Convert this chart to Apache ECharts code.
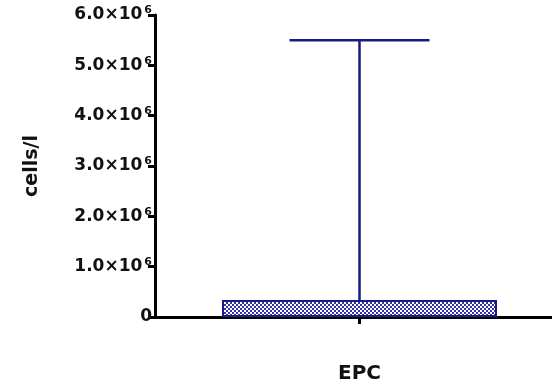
<!DOCTYPE html>
<html><head><meta charset="utf-8">
<script src="https://cdn.jsdelivr.net/npm/echarts@6/dist/echarts.min.js"></script>
<style>html,body{margin:0;padding:0;background:#fff}#c{width:552px;height:389px}</style>
</head><body><div id="c"></div>
<script>
const categories = ['EPC'];
const meanValues = [340000];
const upperValues = [5500000];
const yTicks = [0, 1000000, 2000000, 3000000, 4000000, 5000000, 6000000];
const yTickLabels = ['0', '1.0×10|6', '2.0×10|6', '3.0×10|6', '4.0×10|6', '5.0×10|6', '6.0×10|6'];

function makePattern() {
  const c = document.createElement('canvas');
  c.width = 4; c.height = 4;
  const g = c.getContext('2d');
  g.fillStyle = '#ffffff'; g.fillRect(0, 0, 4, 4);
  g.fillStyle = '#3232a0';
  g.fillRect(0, 0, 2, 2); g.fillRect(2, 2, 2, 2);
  return c;
}

const FONT = 'DejaVu Sans';
const chart = echarts.init(document.getElementById('c'), null, {renderer: 'canvas'});
const lineColor = '#1a1a86';
chart.setOption({
  animation: false,
  grid: {left: 155, top: 15, height: 302, width: 409, outerBoundsMode: 'none', containLabel: false},
  xAxis: {
    type: 'category', data: categories,
    axisLine: {lineStyle: {color: '#000', width: 3}},
    axisTick: {show: true, alignWithLabel: true, length: 7, lineStyle: {color: '#000', width: 3}},
    axisLabel: {margin: 47, color: '#111', fontFamily: FONT, fontWeight: 'bold', fontSize: 20}
  },
  yAxis: {
    type: 'value', min: 0, max: 6000000, interval: 1000000,
    name: 'cells/l', nameLocation: 'middle', nameGap: 113, nameRotate: 90,
    nameTextStyle: {color: '#111', fontFamily: FONT, fontWeight: 'bold', fontSize: 19},
    splitLine: {show: false},
    axisLine: {show: true, lineStyle: {color: '#000', width: 3}},
    axisTick: {show: true, length: 7, lineStyle: {color: '#000', width: 3}},
    axisLabel: {
      margin: 3, color: '#111',
      formatter: function (v) {
        const i = yTicks.indexOf(v);
        const s = i >= 0 ? yTickLabels[i] : String(v);
        if (s.indexOf('|') < 0) return '{a|' + s + '}';
        const p = s.split('|');
        return '{a|' + p[0] + '}{s|' + p[1] + '}';
      },
      rich: {
        a: {fontFamily: FONT, fontWeight: 'bold', fontSize: 17, lineHeight: 20, color: '#111'},
        s: {fontFamily: FONT, fontWeight: 'bold', fontSize: 11, lineHeight: 11, color: '#111', verticalAlign: 'top', padding: [0, 0, 0, 2]}
      }
    }
  },
  series: [
    {
      type: 'bar', data: meanValues, barWidth: 275, z: 2,
      itemStyle: {color: {image: makePattern(), repeat: 'repeat'}, borderColor: lineColor, borderWidth: 2}
    },
    {
      type: 'custom', z: 1,
      data: categories.map((c, i) => [i, meanValues[i], upperValues[i]]),
      renderItem: function (params, api) {
        const lo = api.coord([api.value(0), api.value(1)]);
        const hi = api.coord([api.value(0), api.value(2)]);
        const hw = 70;
        return {
          type: 'group',
          children: [
            {type: 'line', shape: {x1: hi[0], y1: lo[1], x2: hi[0], y2: hi[1]}, style: {stroke: lineColor, lineWidth: 2.5}},
            {type: 'line', shape: {x1: hi[0] - hw, y1: hi[1], x2: hi[0] + hw, y2: hi[1]}, style: {stroke: lineColor, lineWidth: 2.5}}
          ]
        };
      }
    }
  ]
});
</script></body></html>
